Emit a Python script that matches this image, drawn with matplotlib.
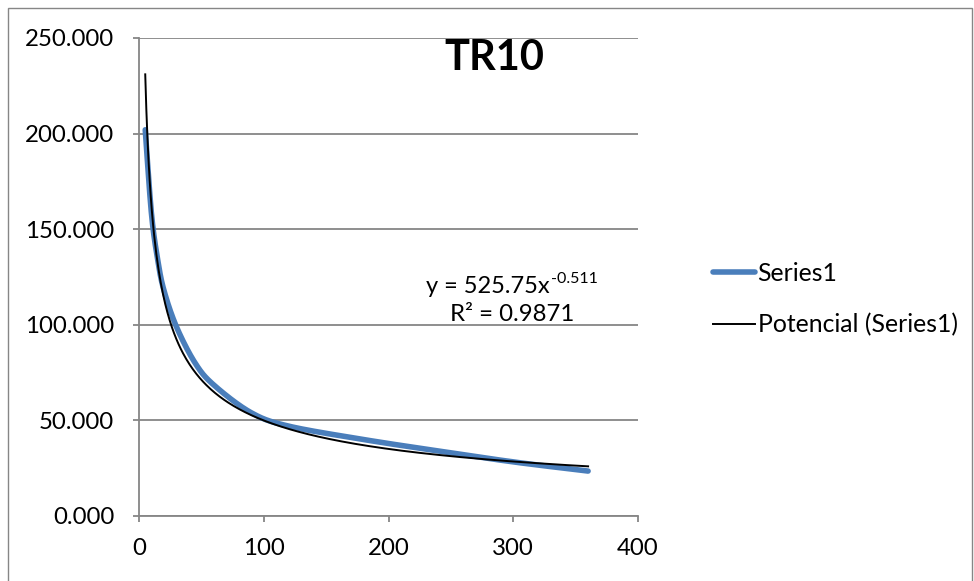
import matplotlib
matplotlib.use("Agg")
import matplotlib.pyplot as plt
from matplotlib.patches import Rectangle
from matplotlib.ticker import FormatStrFormatter
from matplotlib.transforms import offset_copy
import numpy as np

# Observed series (duration vs. intensity)
durations = [5, 10, 15, 20, 30, 45, 60, 90, 120, 180, 240, 300, 360]
intensity = [202, 158, 134, 118, 99, 80, 68.5, 54, 47, 40, 34, 28.3, 23.5]

# Power trend line coefficients: y = a * x^b
trend_a = 525.75
trend_b = -0.511
trend_r2 = 0.9871

title_text = "TR10"
series_label = "Series1"
trend_label = "Potencial (Series1)"

x_ticks = [0, 100, 200, 300, 400]
y_ticks = [0, 50, 100, 150, 200, 250]


def smooth_line(xs, ys, steps=30):
    """Bezier-smoothed polyline through the points (spreadsheet style)."""
    p = np.column_stack([xs, ys]).astype(float)
    n = len(p)
    out = [p[0]]
    t = np.linspace(0, 1, steps)[1:, None]
    for i in range(n - 1):
        p0 = p[i - 1] if i > 0 else p[i]
        p1, p2 = p[i], p[i + 1]
        p3 = p[i + 2] if i + 2 < n else p[i + 1]
        c1 = p1 + (p2 - p0) / 6.0
        c2 = p2 - (p3 - p1) / 6.0
        seg = ((1 - t) ** 3) * p1 + 3 * ((1 - t) ** 2) * t * c1 + 3 * (1 - t) * t ** 2 * c2 + t ** 3 * p2
        out.extend(seg)
    out = np.array(out)
    return out[:, 0], out[:, 1]


plt.rcParams['font.family'] = ['Lato', 'DejaVu Sans']

W, H = 974, 581
fig = plt.figure(figsize=(W / 100, H / 100), dpi=100)
ax = fig.add_axes([139 / W, 1 - 516 / H, (638 - 139) / W, (516 - 38) / H])

grey = '#868686'
blue = '#4A7EBB'

# gridlines and axes
ax.set_xlim(0, 400)
ax.set_ylim(0, 250)
ax.set_xticks(x_ticks)
ax.set_yticks(y_ticks)
ax.yaxis.set_major_formatter(FormatStrFormatter('%.3f'))
ax.grid(axis='y', color=grey, lw=1.3)
ax.set_axisbelow(True)
for side in ('top', 'right'):
    ax.spines[side].set_visible(False)
for side in ('left', 'bottom'):
    ax.spines[side].set_color(grey)
    ax.spines[side].set_linewidth(1.3)
ax.tick_params(axis='both', direction='out', length=4, width=1.3, color=grey,
               labelsize=17.3, labelcolor='black')
ax.tick_params(axis='y', pad=14)
ax.tick_params(axis='x', pad=12)

# series
sx, sy = smooth_line(durations, intensity)
ax.plot(sx, sy, color=blue, lw=4.0, solid_capstyle='round',
        solid_joinstyle='round', label=series_label, zorder=3)

# power trend over the data range
xt = np.linspace(min(durations), max(durations), 400)
yt = trend_a * xt ** trend_b
ax.plot(xt, yt, color='black', lw=1.4, label=trend_label, zorder=4)

# title and trend equation
ax.text(0.713, 0.958, title_text, transform=ax.transAxes, ha='center', va='center',
        fontsize=30, fontweight='bold')
eq_x, eq_y = (550 - 139) / 499, (516 - 293) / 478
ax.text(eq_x, eq_y, "y = %.2fx" % trend_a, transform=ax.transAxes,
        ha='right', va='baseline', fontsize=17)
ax.text(eq_x, eq_y, "%.3f" % trend_b,
        transform=offset_copy(ax.transAxes, fig=fig, x=1, y=10, units='dots'),
        ha='left', va='baseline', fontsize=11.5)
ax.text((512 - 139) / 499, (516 - 321) / 478, "R² = %.4f" % trend_r2, transform=ax.transAxes,
        ha='center', va='baseline', fontsize=17.3)

handles, labels = ax.get_legend_handles_labels()
fig.legend(handles, labels, loc='center left', bbox_to_anchor=(713 / W, 1 - 299 / H),
           bbox_transform=fig.transFigure, frameon=False, fontsize=17.8,
           handlelength=1.7, handletextpad=0.1, labelspacing=1.15, borderpad=0,
           borderaxespad=0)

# chart area border
fig.patches.append(Rectangle((8 / W, -0.01), (972 - 8) / W, (581 - 8) / H + 0.01,
                             transform=fig.transFigure, fill=False, ec=grey, lw=1))

fig.savefig('out.png', dpi=100, facecolor='white')
